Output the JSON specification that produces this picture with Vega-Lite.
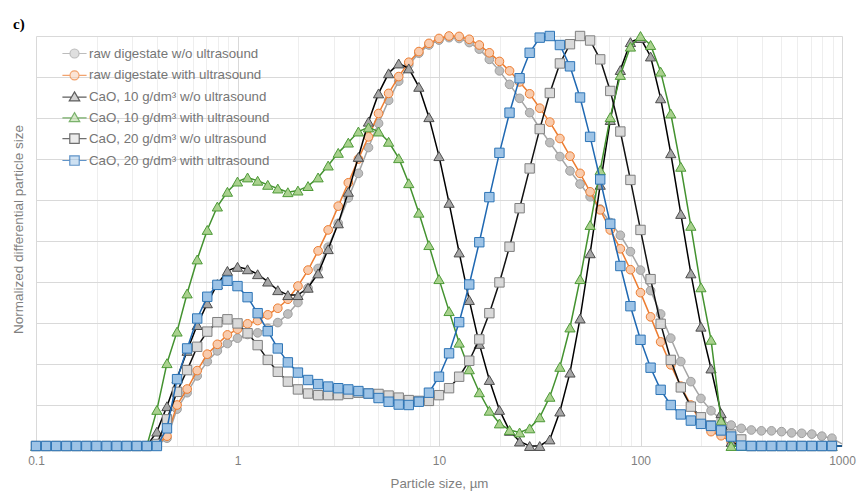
{
  "$schema": "https://vega.github.io/schema/vega-lite/v6.json",
  "width": 806,
  "height": 410,
  "autosize": {"type": "none"},
  "padding": {"left": 36, "top": 36, "right": 19, "bottom": 52},
  "background": "#ffffff",
  "config": {
    "font": "Liberation Sans",
    "view": {"stroke": null},
    "axis": {"titleFontWeight": "normal"}
  },
  "title": {
    "text": "c)",
    "anchor": "start",
    "frame": "group",
    "font": "Liberation Serif",
    "fontSize": 15,
    "fontWeight": "bold",
    "color": "#000000",
    "dx": -23,
    "dy": 22,
    "offset": 7,
    "baseline": "alphabetic"
  },
  "data": {
    "values": [
      {"x": 0.1, "A": 0, "B": 0, "C": 0, "D": 0, "E": 0, "F": 0},
      {"x": 0.1122, "A": 0, "B": 0, "C": 0, "D": 0, "E": 0, "F": 0},
      {"x": 0.1259, "A": 0, "B": 0, "C": 0, "D": 0, "E": 0, "F": 0},
      {"x": 0.1413, "A": 0, "B": 0, "C": 0, "D": 0, "E": 0, "F": 0},
      {"x": 0.1585, "A": 0, "B": 0, "C": 0, "D": 0, "E": 0, "F": 0},
      {"x": 0.1778, "A": 0, "B": 0, "C": 0, "D": 0, "E": 0, "F": 0},
      {"x": 0.1995, "A": 0, "B": 0, "C": 0, "D": 0, "E": 0, "F": 0},
      {"x": 0.2239, "A": 0, "B": 0, "C": 0, "D": 0, "E": 0, "F": 0},
      {"x": 0.2512, "A": 0, "B": 0, "C": 0, "D": 0, "E": 0, "F": 0},
      {"x": 0.2818, "A": 0, "B": 0, "C": 0, "D": 0, "E": 0, "F": 0},
      {"x": 0.3162, "A": 0, "B": 0, "C": 0, "D": 0, "E": 0, "F": 0},
      {"x": 0.3548, "A": 0, "B": 0, "C": 0, "D": 0, "E": 0, "F": 0},
      {"x": 0.3981, "A": 0.002, "B": 0.003, "C": 0.035, "D": 0.088, "E": 0.005, "F": 0},
      {"x": 0.4467, "A": 0.019, "B": 0.024, "C": 0.097, "D": 0.202, "E": 0.065, "F": 0.043},
      {"x": 0.5012, "A": 0.09, "B": 0.1, "C": 0.165, "D": 0.279, "E": 0.132, "F": 0.163},
      {"x": 0.5623, "A": 0.13, "B": 0.139, "C": 0.232, "D": 0.372, "E": 0.185, "F": 0.238},
      {"x": 0.631, "A": 0.171, "B": 0.184, "C": 0.295, "D": 0.455, "E": 0.242, "F": 0.311},
      {"x": 0.7079, "A": 0.206, "B": 0.224, "C": 0.348, "D": 0.527, "E": 0.279, "F": 0.364},
      {"x": 0.7943, "A": 0.232, "B": 0.248, "C": 0.395, "D": 0.584, "E": 0.302, "F": 0.393},
      {"x": 0.8913, "A": 0.25, "B": 0.271, "C": 0.427, "D": 0.62, "E": 0.309, "F": 0.403},
      {"x": 1, "A": 0.263, "B": 0.285, "C": 0.437, "D": 0.645, "E": 0.299, "F": 0.39},
      {"x": 1.122, "A": 0.272, "B": 0.298, "C": 0.431, "D": 0.655, "E": 0.275, "F": 0.363},
      {"x": 1.259, "A": 0.276, "B": 0.306, "C": 0.419, "D": 0.647, "E": 0.246, "F": 0.324},
      {"x": 1.413, "A": 0.287, "B": 0.32, "C": 0.401, "D": 0.637, "E": 0.21, "F": 0.28},
      {"x": 1.585, "A": 0.301, "B": 0.336, "C": 0.38, "D": 0.628, "E": 0.181, "F": 0.238},
      {"x": 1.778, "A": 0.322, "B": 0.358, "C": 0.368, "D": 0.619, "E": 0.157, "F": 0.204},
      {"x": 1.995, "A": 0.35, "B": 0.39, "C": 0.368, "D": 0.623, "E": 0.138, "F": 0.179},
      {"x": 2.239, "A": 0.385, "B": 0.429, "C": 0.386, "D": 0.634, "E": 0.128, "F": 0.161},
      {"x": 2.512, "A": 0.433, "B": 0.476, "C": 0.421, "D": 0.655, "E": 0.124, "F": 0.151},
      {"x": 2.818, "A": 0.485, "B": 0.527, "C": 0.48, "D": 0.684, "E": 0.124, "F": 0.145},
      {"x": 3.162, "A": 0.543, "B": 0.585, "C": 0.543, "D": 0.715, "E": 0.124, "F": 0.141},
      {"x": 3.548, "A": 0.605, "B": 0.642, "C": 0.62, "D": 0.74, "E": 0.127, "F": 0.138},
      {"x": 3.981, "A": 0.665, "B": 0.7, "C": 0.705, "D": 0.767, "E": 0.13, "F": 0.134},
      {"x": 4.467, "A": 0.728, "B": 0.754, "C": 0.791, "D": 0.777, "E": 0.128, "F": 0.128},
      {"x": 5.012, "A": 0.787, "B": 0.811, "C": 0.86, "D": 0.767, "E": 0.127, "F": 0.117},
      {"x": 5.623, "A": 0.843, "B": 0.86, "C": 0.909, "D": 0.742, "E": 0.123, "F": 0.108},
      {"x": 6.31, "A": 0.89, "B": 0.901, "C": 0.933, "D": 0.702, "E": 0.118, "F": 0.101},
      {"x": 7.079, "A": 0.93, "B": 0.936, "C": 0.921, "D": 0.641, "E": 0.112, "F": 0.1},
      {"x": 7.943, "A": 0.958, "B": 0.962, "C": 0.876, "D": 0.569, "E": 0.11, "F": 0.108},
      {"x": 8.913, "A": 0.978, "B": 0.982, "C": 0.802, "D": 0.49, "E": 0.11, "F": 0.13},
      {"x": 10, "A": 0.99, "B": 0.994, "C": 0.707, "D": 0.407, "E": 0.124, "F": 0.169},
      {"x": 11.22, "A": 0.996, "B": 1, "C": 0.593, "D": 0.329, "E": 0.141, "F": 0.226},
      {"x": 12.59, "A": 0.994, "B": 0.999, "C": 0.472, "D": 0.252, "E": 0.169, "F": 0.302},
      {"x": 14.13, "A": 0.984, "B": 0.992, "C": 0.356, "D": 0.187, "E": 0.208, "F": 0.394},
      {"x": 15.85, "A": 0.968, "B": 0.978, "C": 0.249, "D": 0.131, "E": 0.26, "F": 0.497},
      {"x": 17.78, "A": 0.943, "B": 0.959, "C": 0.161, "D": 0.086, "E": 0.324, "F": 0.607},
      {"x": 19.95, "A": 0.915, "B": 0.938, "C": 0.088, "D": 0.055, "E": 0.399, "F": 0.715},
      {"x": 22.39, "A": 0.882, "B": 0.915, "C": 0.037, "D": 0.039, "E": 0.486, "F": 0.813},
      {"x": 25.12, "A": 0.848, "B": 0.888, "C": 0.011, "D": 0.033, "E": 0.58, "F": 0.897},
      {"x": 28.18, "A": 0.813, "B": 0.859, "C": 0, "D": 0.043, "E": 0.677, "F": 0.959},
      {"x": 31.62, "A": 0.775, "B": 0.824, "C": 0, "D": 0.07, "E": 0.773, "F": 0.996},
      {"x": 35.48, "A": 0.74, "B": 0.79, "C": 0.016, "D": 0.12, "E": 0.861, "F": 1},
      {"x": 39.81, "A": 0.706, "B": 0.75, "C": 0.084, "D": 0.193, "E": 0.933, "F": 0.978},
      {"x": 44.67, "A": 0.671, "B": 0.707, "C": 0.179, "D": 0.289, "E": 0.98, "F": 0.926},
      {"x": 50.12, "A": 0.639, "B": 0.665, "C": 0.311, "D": 0.407, "E": 1, "F": 0.85},
      {"x": 56.23, "A": 0.608, "B": 0.62, "C": 0.47, "D": 0.539, "E": 0.989, "F": 0.754},
      {"x": 63.1, "A": 0.578, "B": 0.576, "C": 0.637, "D": 0.673, "E": 0.943, "F": 0.65},
      {"x": 70.79, "A": 0.545, "B": 0.527, "C": 0.795, "D": 0.802, "E": 0.866, "F": 0.542},
      {"x": 79.43, "A": 0.514, "B": 0.481, "C": 0.917, "D": 0.905, "E": 0.767, "F": 0.439},
      {"x": 89.13, "A": 0.474, "B": 0.43, "C": 0.985, "D": 0.974, "E": 0.649, "F": 0.341},
      {"x": 100, "A": 0.429, "B": 0.374, "C": 0.995, "D": 1, "E": 0.527, "F": 0.259},
      {"x": 112.2, "A": 0.379, "B": 0.315, "C": 0.95, "D": 0.978, "E": 0.407, "F": 0.191},
      {"x": 125.9, "A": 0.322, "B": 0.254, "C": 0.848, "D": 0.913, "E": 0.298, "F": 0.137},
      {"x": 141.3, "A": 0.263, "B": 0.198, "C": 0.714, "D": 0.811, "E": 0.21, "F": 0.1},
      {"x": 158.5, "A": 0.206, "B": 0.146, "C": 0.566, "D": 0.681, "E": 0.143, "F": 0.077},
      {"x": 177.8, "A": 0.157, "B": 0.1, "C": 0.421, "D": 0.537, "E": 0.096, "F": 0.062},
      {"x": 199.5, "A": 0.116, "B": 0.057, "C": 0.291, "D": 0.387, "E": 0.07, "F": 0.054},
      {"x": 223.9, "A": 0.086, "B": 0.035, "C": 0.189, "D": 0.259, "E": 0.05, "F": 0.049},
      {"x": 251.2, "A": 0.065, "B": 0.025, "C": 0.08, "D": 0.062, "E": 0.039, "F": 0.038},
      {"x": 281.8, "A": 0.051, "B": 0.01, "C": 0.01, "D": 0, "E": 0.028, "F": 0.023},
      {"x": 316.2, "A": 0.043, "B": 0, "C": 0, "D": 0, "E": 0.016, "F": 0.001},
      {"x": 354.8, "A": 0.039, "B": 0, "C": 0, "D": 0, "E": 0, "F": 0},
      {"x": 398.1, "A": 0.037, "B": 0, "C": 0, "D": 0, "E": 0, "F": 0},
      {"x": 446.7, "A": 0.037, "B": 0, "C": 0, "D": 0, "E": 0, "F": 0},
      {"x": 501.2, "A": 0.035, "B": 0, "C": 0, "D": 0, "E": 0, "F": 0},
      {"x": 562.3, "A": 0.032, "B": 0, "C": 0, "D": 0, "E": 0, "F": 0},
      {"x": 631, "A": 0.031, "B": 0, "C": 0, "D": 0, "E": 0, "F": 0},
      {"x": 707.9, "A": 0.029, "B": 0, "C": 0, "D": 0, "E": 0, "F": 0},
      {"x": 794.3, "A": 0.024, "B": 0, "C": 0, "D": 0, "E": 0, "F": 0},
      {"x": 891.3, "A": 0.019, "B": 0, "C": 0, "D": 0, "E": 0, "F": 0},
      {"x": 1000, "A": 0.005, "B": 0, "C": 0, "D": 0, "E": 0, "F": 0}
    ]
  },
  "transform": [{"fold": ["A", "B", "C", "D", "E", "F"], "as": ["s", "y"]}],
  "encoding": {
    "x": {
      "field": "x", "type": "quantitative",
      "scale": {"type": "log", "domain": [0.1, 1000], "nice": false},
      "axis": {
        "values": [0.1, 0.2, 0.3, 0.4, 0.5, 0.6, 0.7, 0.8, 0.9, 1, 2, 3, 4, 5, 6, 7, 8, 9, 10, 20, 30, 40, 50, 60, 70, 80, 90, 100, 200, 300, 400, 500, 600, 700, 800, 900, 1000],
        "format": "~g",
        "labelExpr": "(datum.value === 0.1 || datum.value === 1 || datum.value === 10 || datum.value === 100 || datum.value === 1000) ? datum.label : ''",
        "grid": true,
        "gridColor": {"condition": {"test": "datum.value === 0.1 || datum.value === 1 || datum.value === 10 || datum.value === 100 || datum.value === 1000", "value": "#d9d9d9"}, "value": "#eeeeee"},
        "gridWidth": 1,
        "ticks": false, "domain": false,
        "labelFlush": false, "labelOverlap": false,
        "labelFontSize": 12, "labelColor": "#7f7f7f", "labelPadding": 9,
        "title": "Particle size, µm", "titleFontSize": 13.3, "titleColor": "#7f7f7f", "titlePadding": 10
      }
    },
    "y": {
      "field": "y", "type": "quantitative",
      "scale": {"domain": [0, 1], "nice": false},
      "axis": {
        "values": [0, 0.1, 0.2, 0.3, 0.4, 0.5, 0.6, 0.7, 0.8, 0.9, 1],
        "grid": true, "gridColor": "#d9d9d9", "gridWidth": 1,
        "labels": false, "ticks": false, "domain": false,
        "title": "Normalized differential particle size", "titleFontSize": 13.5, "titleColor": "#7f7f7f", "titlePadding": 11, "titleY": 193
      }
    }
  },
  "layer": [
    {
      "transform": [{"filter": "false"}],
      "mark": {"type": "point", "filled": true},
      "encoding": {
        "shape": {
          "field": "s", "type": "nominal",
          "scale": {"domain": ["A", "B", "C", "D", "E", "F"], "range": [
            "M-1.15,0H-0.43M0.43,0H1.15M-0.43,0A0.43,0.43,0,1,1,0.43,0A0.43,0.43,0,1,1,-0.43,0Z",
            "M-1.15,0H-0.43M0.43,0H1.15M-0.43,0A0.43,0.43,0,1,1,0.43,0A0.43,0.43,0,1,1,-0.43,0Z",
            "M-1.15,0H-0.3M0.3,0H1.15M0,-0.5L0.5,0.36H-0.5Z",
            "M-1.15,0H-0.3M0.3,0H1.15M0,-0.5L0.5,0.36H-0.5Z",
            "M-1.15,0H-0.45M0.45,0H1.15M-0.45,-0.45H0.45V0.45H-0.45Z",
            "M-1.15,0H-0.45M0.45,0H1.15M-0.45,-0.45H0.45V0.45H-0.45Z"]},
          "legend": {"orient": "none", "legendX": 27, "legendY": 6, "padding": 0, "title": null, "symbolSize": 441, "symbolStrokeWidth": 1.2, "rowPadding": 2.8, "labelOffset": 3, "labelFontSize": 13.3, "labelColor": "#767676", "labelLimit": 400,
            "labelExpr": "{'A':'raw digestate w/o ultrasound','B':'raw digestate with ultrasound','C':'CaO, 10 g/dm³ w/o ultrasound','D':'CaO, 10 g/dm³ with ultrasound','E':'CaO, 20 g/dm³ w/o ultrasound','F':'CaO, 20 g/dm³ with ultrasound'}[datum.value]"}
        },
        "fill": {
          "field": "s", "type": "nominal",
          "scale": {"domain": ["A", "B", "C", "D", "E", "F"], "range": ["#bfbfbf", "#f8cbad", "#a6a6a6", "#a9d18e", "#d9d9d9", "#9dc3e6"]},
          "legend": {"orient": "none", "legendX": 27, "legendY": 6, "padding": 0, "title": null, "symbolSize": 441, "symbolStrokeWidth": 1.2, "rowPadding": 2.8, "labelOffset": 3, "labelFontSize": 13.3, "labelColor": "#767676", "labelLimit": 400,
            "labelExpr": "{'A':'raw digestate w/o ultrasound','B':'raw digestate with ultrasound','C':'CaO, 10 g/dm³ w/o ultrasound','D':'CaO, 10 g/dm³ with ultrasound','E':'CaO, 20 g/dm³ w/o ultrasound','F':'CaO, 20 g/dm³ with ultrasound'}[datum.value]"}
        },
        "stroke": {
          "field": "s", "type": "nominal",
          "scale": {"domain": ["A", "B", "C", "D", "E", "F"], "range": ["#a0a0a0", "#ed7d31", "#1a1a1a", "#43922f", "#333333", "#1f68b2"]},
          "legend": {"orient": "none", "legendX": 27, "legendY": 6, "padding": 0, "title": null, "symbolSize": 441, "symbolStrokeWidth": 1.2, "rowPadding": 2.8, "labelOffset": 3, "labelFontSize": 13.3, "labelColor": "#767676", "labelLimit": 400,
            "labelExpr": "{'A':'raw digestate w/o ultrasound','B':'raw digestate with ultrasound','C':'CaO, 10 g/dm³ w/o ultrasound','D':'CaO, 10 g/dm³ with ultrasound','E':'CaO, 20 g/dm³ w/o ultrasound','F':'CaO, 20 g/dm³ with ultrasound'}[datum.value]"}
        }
      }
    },
    {"transform": [{"filter": "datum.s === 'A'"}], "mark": {"type": "line", "strokeWidth": 1.5, "color": "#a5a5a5"}, "encoding": {}},
    {"transform": [{"filter": "datum.s === 'A' && datum.x < 950"}], "mark": {"type": "point", "shape": "circle", "filled": true, "opacity": 1, "size": 75, "fill": "#bfbfbf", "stroke": "#a0a0a0", "strokeWidth": 1}, "encoding": {}},
    {"transform": [{"filter": "datum.s === 'B'"}], "mark": {"type": "line", "strokeWidth": 1.5, "color": "#ed7d31"}, "encoding": {}},
    {"transform": [{"filter": "datum.s === 'B' && datum.x < 950"}], "mark": {"type": "point", "shape": "circle", "filled": true, "opacity": 1, "size": 75, "fill": "#f8cbad", "stroke": "#ed7d31", "strokeWidth": 1}, "encoding": {}},
    {"transform": [{"filter": "datum.s === 'C'"}], "mark": {"type": "line", "strokeWidth": 1.5, "color": "#000000"}, "encoding": {}},
    {"transform": [{"filter": "datum.s === 'C' && datum.x < 950"}], "mark": {"type": "point", "shape": "triangle-up", "filled": true, "opacity": 1, "size": 105, "fill": "#a6a6a6", "stroke": "#4d4d4d", "strokeWidth": 1}, "encoding": {}},
    {"transform": [{"filter": "datum.s === 'D'"}], "mark": {"type": "line", "strokeWidth": 1.5, "color": "#43922f"}, "encoding": {}},
    {"transform": [{"filter": "datum.s === 'D' && datum.x < 950"}], "mark": {"type": "point", "shape": "triangle-up", "filled": true, "opacity": 1, "size": 105, "fill": "#a9d18e", "stroke": "#4e9a38", "strokeWidth": 1}, "encoding": {}},
    {"transform": [{"filter": "datum.s === 'E'"}], "mark": {"type": "line", "strokeWidth": 1.5, "color": "#111111"}, "encoding": {}},
    {"transform": [{"filter": "datum.s === 'E' && datum.x < 950"}], "mark": {"type": "point", "shape": "square", "filled": true, "opacity": 1, "size": 88, "fill": "#d9d9d9", "stroke": "#7f7f7f", "strokeWidth": 1}, "encoding": {}},
    {"transform": [{"filter": "datum.s === 'F'"}], "mark": {"type": "line", "strokeWidth": 1.5, "color": "#1f68b2"}, "encoding": {}},
    {"transform": [{"filter": "datum.s === 'F' && datum.x < 950"}], "mark": {"type": "point", "shape": "square", "filled": true, "opacity": 1, "size": 88, "fill": "#9dc3e6", "stroke": "#2e75b6", "strokeWidth": 1}, "encoding": {}}
  ]
}
